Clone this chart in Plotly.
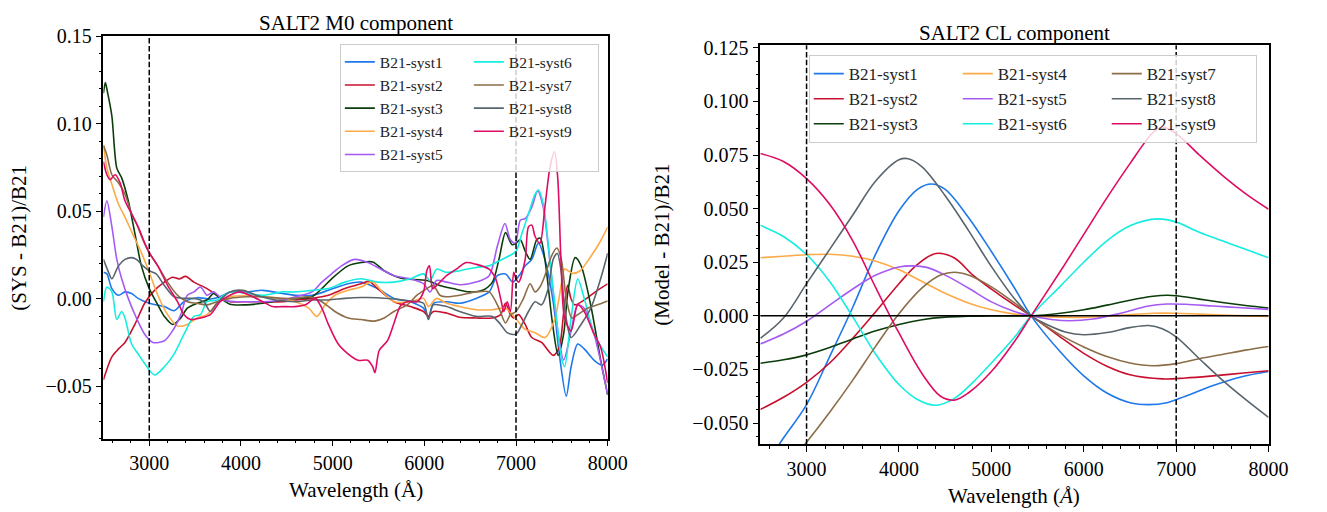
import plotly.graph_objects as go

# ---------------- data ----------------
NAMES = ["B21-syst1", "B21-syst2", "B21-syst3", "B21-syst4", "B21-syst5",
         "B21-syst6", "B21-syst7", "B21-syst8", "B21-syst9"]
COLORS = ["#1f78eb", "#c8102e", "#0b3d0b", "#fdaa48", "#a55af4",
          "#14ede0", "#8b6d48", "#59656d", "#de0c62"]

CUT_LO = 3000
CUT_HI = 7000

# --- SALT2 M0 component: (SYS - B21)/B21 ---
M0_W1 = [2500,2538,2592,2664,2735,2807,2878,3000,3165,3272,3379,3522,3666,3773,3880,4059,4238,4453,4596,4775,4954,5168,5311,5490,5669,5848,5991,6045,6099,6242,6385,6564,6707,6796,6886,6965,7047,7100,7172,7244,7315,7405,7476,7548,7601,7673,7744,7852,7941,8000]
M0_V1 = [.0151,.0142,.0058,.0020,.0039,.0030,.0002,-.0026,-.0045,-.0069,-.0017,.0006,-.0002,.0011,.0039,.0039,.0048,.0030,.0020,.0020,.0048,.0086,.0095,.0058,.0002,-.0017,-.0054,-.0106,-.0026,-.0017,-.0026,.0002,.0039,.0132,.0142,.0095,.0142,.0188,.0225,.0318,.0225,-.0017,-.0333,-.0557,-.0389,-.0259,-.0287,-.0352,-.0380,-.0343]

M0_W2 = [2500,2592,2664,2735,2843,2950,3057,3165,3254,3326,3397,3487,3630,3737,3880,4023,4238,4453,4596,4775,4954,5133,5311,5401,5490,5669,5848,5991,6045,6099,6242,6385,6564,6743,6832,6886,6939,6975,7029,7100,7172,7279,7405,7470,7520,7562,7600,7640,7750,7880,8000]
M0_V2 = [-.0464,-.0333,-.0287,-.0250,-.0147,-.0026,.0048,.0095,.0123,.0113,.0128,.0095,.0058,.0020,-.0017,-.0017,-.0017,-.0017,-.0007,.0002,.0020,.0058,.0086,.0099,.0058,-.0017,-.0045,-.0073,-.0100,-.0073,-.0082,-.0106,-.0110,-.0110,-.0091,-.0026,-.0091,-.0110,-.0091,-.0147,-.0222,-.0250,-.0324,-.0280,-.0080,.0077,.0000,-.0035,-.0005,.0045,.0085]

M0_W3 = [2500,2521,2545,2592,2646,2699,2771,2843,2914,3000,3093,3165,3254,3344,3415,3522,3630,3701,3755,3880,4059,4238,4453,4596,4775,4882,4989,5168,5311,5437,5562,5669,5777,6027,6170,6313,6492,6635,6743,6814,6886,6957,7000,7047,7100,7154,7226,7265,7315,7400,7460,7520,7566,7645,7709,7816,7923,8000]
M0_V3 = [.1175,.1236,.1180,.1045,.0747,.0691,.0560,.0374,.0188,.0058,-.0035,-.0101,-.0147,-.0110,-.0054,-.0026,-.0007,.0030,.0011,-.0032,-.0035,-.0026,-.0007,.0002,.0011,.0058,.0114,.0188,.0207,.0210,.0160,.0132,.0114,.0104,.0076,.0058,.0039,.0048,.0095,.0225,.0378,.0309,.0318,.0337,.0272,.0225,.0337,.0346,.0225,-.0150,-.0324,-.0200,.0039,.0235,.0190,-.0040,-.0350,-.0550]

M0_W4 = [2500,2538,2592,2664,2735,2807,2914,3000,3093,3200,3308,3415,3522,3630,3737,3880,4059,4238,4417,4596,4739,4828,4918,5025,5168,5311,5437,5526,5669,5848,5991,6045,6134,6242,6385,6564,6743,6886,6993,7100,7208,7315,7420,7500,7530,7620,7700,7800,7900,8000]
M0_V4 = [.0877,.0747,.0654,.0542,.0467,.0384,.0263,.0151,.0020,-.0091,-.0156,-.0147,-.0110,-.0091,-.0026,.0011,.0017,.0011,.0002,-.0017,-.0054,-.0101,-.0035,.0020,.0048,.0067,.0099,.0048,-.0017,-.0017,.0002,-.0045,.0002,-.0026,-.0045,-.0063,-.0063,-.0054,-.0110,-.0175,-.0194,-.0222,-.0120,.0100,.0170,.0145,.0160,.0230,.0310,.0410]

M0_W5 = [2500,2538,2592,2646,2699,2771,2860,2950,3039,3165,3254,3344,3415,3487,3558,3630,3701,3809,3952,4095,4238,4453,4596,4775,4882,4989,5097,5240,5383,5526,5669,5848,5991,6063,6134,6242,6385,6564,6707,6796,6879,6939,6993,7047,7100,7172,7236,7297,7351,7405,7460,7520,7601,7673,7744,7852,8000]
M0_V5 = [.0467,.0560,.0412,.0225,.0114,.0002,-.0110,-.0203,-.0250,-.0240,-.0184,-.0091,.0020,.0039,.0067,.0020,.0039,-.0007,-.0017,-.0017,-.0017,-.0007,.0011,.0039,.0095,.0142,.0188,.0225,.0207,.0169,.0132,.0114,.0086,.0039,.0104,.0095,.0080,.0095,.0132,.0300,.0430,.0337,.0318,.0449,.0458,.0523,.0616,.0523,.0300,.0039,-.0200,-.0350,-.0184,-.0035,-.0054,-.0203,-.0550]

M0_W6 = [2500,2538,2592,2646,2699,2735,2807,2878,2950,3057,3165,3272,3379,3487,3558,3630,3737,3880,4059,4238,4453,4596,4775,4954,5133,5311,5490,5669,5848,5991,6063,6134,6242,6385,6564,6707,6814,6922,7000,7065,7136,7208,7244,7297,7369,7440,7494,7530,7601,7673,7744,7852,8000]
M0_V6 = [-.0017,.0067,.0039,-.0119,-.0073,-.0110,-.0259,-.0315,-.0371,-.0436,-.0389,-.0315,-.0203,-.0101,-.0091,-.0017,-.0007,.0039,.0030,.0020,.0039,.0039,.0048,.0058,.0095,.0114,.0095,.0095,.0114,.0142,.0104,.0169,.0151,.0160,.0179,.0188,.0216,.0244,.0272,.0374,.0486,.0598,.0622,.0542,.0225,-.0110,-.0333,-.0389,-.0110,.0114,.0002,-.0203,-.0333]

M0_W7 = [2500,2538,2592,2664,2735,2807,2860,2932,3000,3093,3200,3308,3415,3522,3630,3737,3880,4059,4238,4453,4596,4739,4882,5025,5168,5311,5455,5562,5669,5812,5920,6027,6099,6170,6242,6385,6564,6707,6814,6886,6939,7000,7082,7154,7208,7261,7315,7387,7445,7494,7548,7610,7673,7780,7888,8000]
M0_V7 = [.0877,.0821,.0709,.0663,.0598,.0486,.0430,.0337,.0263,.0188,.0095,.0020,-.0017,-.0026,-.0035,-.0017,.0002,.0011,.0011,.0002,.0002,.0011,-.0017,-.0073,-.0110,-.0119,-.0128,-.0110,-.0073,-.0035,.0020,.0058,.0076,.0020,.0011,.0020,.0039,.0039,-.0054,-.0138,-.0091,-.0073,.0002,.0086,.0039,.0067,.0132,.0244,.0290,.0225,.0002,-.0110,-.0091,-.0054,-.0035,-.0013]

M0_W8 = [2500,2556,2592,2664,2735,2807,2860,2932,3000,3075,3165,3272,3379,3487,3594,3666,3737,3880,4023,4166,4381,4596,4775,4954,5133,5311,5490,5669,5848,5991,6045,6099,6242,6385,6564,6743,6832,6904,7000,7065,7136,7208,7279,7351,7405,7450,7494,7530,7601,7709,7816,7923,8000]
M0_V8 = [.0225,.0151,.0114,.0188,.0225,.0235,.0225,.0188,.0160,.0142,.0076,.0011,.0002,.0002,-.0017,-.0073,-.0026,.0039,.0048,.0020,-.0007,-.0017,-.0007,-.0007,.0002,.0007,.0006,-.0002,-.0013,-.0026,-.0119,-.0035,-.0045,-.0073,-.0101,-.0101,-.0147,-.0194,-.0203,-.0147,-.0073,-.0017,-.0035,.0058,.0225,.0260,.0150,-.0050,-.0222,-.0147,-.0054,.0114,.0260]

M0_W9 = [2500,2538,2574,2628,2682,2735,2807,2878,2950,3000,3093,3200,3308,3379,3451,3558,3666,3773,3880,3988,4095,4238,4345,4453,4596,4703,4810,4882,4954,5061,5168,5276,5383,5437,5462,5508,5598,5669,5741,5812,5920,5991,6027,6056,6091,6134,6242,6349,6456,6564,6707,6778,6832,6868,6904,6939,6975,7000,7029,7100,7136,7172,7208,7261,7315,7369,7420,7455,7490,7530,7601,7673,7744,7852,7923,8000]
M0_V9 = [.0784,.0709,.0681,.0709,.0663,.0560,.0486,.0412,.0318,.0263,.0188,.0076,-.0017,-.0091,-.0119,-.0110,-.0091,-.0017,.0020,.0039,.0020,-.0017,-.0045,-.0045,-.0045,-.0035,.0002,-.0054,-.0147,-.0259,-.0315,-.0352,-.0352,-.0389,-.0423,-.0296,-.0240,-.0140,-.0040,-.0017,-.0017,.0039,.0160,.0188,.0058,.0076,.0132,.0169,.0207,.0197,.0169,.0114,.0002,-.0073,-.0017,-.0073,.0151,.0114,.0095,.0225,.0412,.0421,.0356,.0318,.0523,.0747,.0840,.0691,.0225,-.0110,-.0184,-.0035,-.0073,-.0203,-.0277,-.0482]

# --- SALT2 CL component: (Model - B21)/B21 ---
CL_W1 = [2500,2750,3000,3250,3500,3750,4000,4200,4350,4500,4750,5000,5250,5430,5750,6000,6250,6500,6700,6900,7100,7400,7700,8000]
CL_V1 = [-.073,-.057,-.0414,-.019,.004,.029,.049,.059,.0615,.059,.046,.030,.013,0,-.017,-.028,-.036,-.0405,-.0414,-.0405,-.0375,-.0325,-.0285,-.026]

CL_W2 = [2500,2750,3000,3250,3500,3750,4000,4200,4400,4600,4800,5000,5250,5430,5750,6000,6250,6500,6850,7100,7400,7700,8000]
CL_V2 = [-.0437,-.038,-.031,-.022,-.0105,.002,.015,.024,.0291,.027,.019,.0125,.005,0,-.010,-.0175,-.0235,-.0275,-.0294,-.0290,-.0280,-.0268,-.0256]

CL_W3 = [2500,2750,3000,3250,3500,3750,4000,4250,4500,4750,5000,5430,5750,6000,6250,6500,6750,6900,7000,7250,7500,7750,8000]
CL_V3 = [-.0221,-.0205,-.0182,-.0148,-.0108,-.007,-.004,-.0018,-.0006,-.0002,0,0,.0012,.0028,.005,.0073,.0091,.0096,.0094,.0078,.0062,.0048,.0036]

CL_W4 = [2500,2750,3000,3250,3500,3750,4000,4250,4500,4750,5000,5250,5430,5750,6000,6250,6500,6750,7000,7250,7500,7750,8000]
CL_V4 = [.0271,.0278,.0285,.0287,.0278,.0255,.0215,.016,.0105,.006,.0028,.0008,0,-.0006,-.0007,-.0002,.0006,.0012,.0012,.0008,.0004,.0,-.0003]

CL_W5 = [2500,2750,3000,3250,3500,3750,4000,4150,4300,4500,4750,5000,5250,5430,5650,5850,6100,6400,6700,6900,7100,7400,7700,8000]
CL_V5 = [-.0131,-.0085,-.0025,.005,.0125,.019,.0228,.0233,.0226,.019,.013,.0065,.002,0,-.0017,-.0023,-.0015,.0012,.0046,.0055,.0054,.0046,.0038,.003]

CL_W6 = [2500,2750,3000,3250,3500,3750,4000,4200,4400,4600,4800,5000,5250,5430,5750,6000,6250,6500,6800,7000,7250,7500,7750,8000]
CL_V6 = [.0422,.037,.0286,.016,-.0005,-.018,-.032,-.039,-.0417,-.0385,-.031,-.022,-.010,0,.014,.025,.035,.042,.0452,.0437,.039,.035,.031,.0271]

CL_W7 = [2500,2750,3000,3250,3500,3750,4000,4250,4450,4600,4750,5000,5250,5430,5750,6000,6250,6500,6750,7000,7250,7500,7750,8000]
CL_V7 = [-.085,-.072,-.059,-.045,-.030,-.014,.001,.013,.019,.0203,.019,.0135,.006,0,-.009,-.0145,-.019,-.022,-.0233,-.0223,-.020,-.018,-.016,-.0143]

CL_W8 = [2500,2750,3000,3250,3500,3750,4000,4100,4250,4500,4750,5000,5250,5430,5600,5800,6000,6250,6500,6700,6850,7000,7250,7500,7750,8000]
CL_V8 = [-.0105,-.001,.015,.031,.047,.063,.0728,.0733,.0695,.056,.040,.023,.008,0,-.004,-.0075,-.0088,-.0078,-.0055,-.0045,-.006,-.0098,-.020,-.030,-.039,-.0474]

CL_W9 = [2500,2750,3000,3250,3500,3750,4000,4250,4450,4600,4750,5000,5250,5430,5750,6000,6250,6500,6750,6850,7000,7250,7500,7750,8000]
CL_V9 = [.0757,.072,.064,.052,.035,.013,-.008,-.027,-.0375,-.0393,-.036,-.026,-.012,0,.021,.038,.055,.071,.0855,.088,.085,.075,.0655,.057,.0497]

M0_W = [M0_W1, M0_W2, M0_W3, M0_W4, M0_W5, M0_W6, M0_W7, M0_W8, M0_W9]
M0_V = [M0_V1, M0_V2, M0_V3, M0_V4, M0_V5, M0_V6, M0_V7, M0_V8, M0_V9]
CL_W = [CL_W1, CL_W2, CL_W3, CL_W4, CL_W5, CL_W6, CL_W7, CL_W8, CL_W9]
CL_V = [CL_V1, CL_V2, CL_V3, CL_V4, CL_V5, CL_V6, CL_V7, CL_V8, CL_V9]

# ---------------- figure ----------------
FONT = "Liberation Serif"
W, H = 1327, 512
fig = go.Figure()

M0_GROUPS = ["a", "a", "a", "a", "a", "b", "b", "b", "b"]
CL_GROUPS = ["p", "p", "p", "q", "q", "q", "r", "r", "r"]

for i in range(9):
    fig.add_trace(go.Scatter(
        x=M0_W[i], y=M0_V[i], mode="lines", name=NAMES[i],
        line=dict(color=COLORS[i], width=1.6, shape="spline", smoothing=0.8),
        legendgroup="m0" + M0_GROUPS[i], legend="legend",
        xaxis="x", yaxis="y"))
for i in range(9):
    fig.add_trace(go.Scatter(
        x=CL_W[i], y=CL_V[i], mode="lines", name=NAMES[i],
        line=dict(color=COLORS[i], width=1.6, shape="spline", smoothing=1.0),
        legendgroup="cl" + CL_GROUPS[i], legend="legend2",
        xaxis="x2", yaxis="y2"))

def px_x(p):
    return p / W

def px_y(p):
    return 1 - p / H

axis_common = dict(
    showgrid=False, zeroline=False, showline=True, linecolor="black",
    linewidth=1.5, mirror=True, ticks="outside", ticklen=6, tickwidth=1.2,
    tickcolor="black", tickfont=dict(family=FONT, size=20, color="black"),
)

fig.update_layout(
    width=W, height=H, margin=dict(l=0, r=0, t=0, b=0),
    paper_bgcolor="white", plot_bgcolor="white", showlegend=True,
    xaxis=dict(axis_common, domain=[px_x(105), px_x(617)], anchor="y",
               range=[2500, 8000], dtick=1000, tick0=0,
               minor=dict(ticks="outside", ticklen=3, tickwidth=1, tickcolor="black", dtick=200)),
    yaxis=dict(axis_common, domain=[px_y(437), px_y(26)], anchor="x",
               range=[-0.08, 0.15], dtick=0.05, tick0=0, tickformat=".2f",
               minor=dict(ticks="outside", ticklen=3, tickwidth=1, tickcolor="black", dtick=0.01)),
    xaxis2=dict(axis_common, domain=[px_x(772), px_x(1288)], anchor="y2",
                range=[2500, 8000], dtick=1000, tick0=0,
                minor=dict(ticks="outside", ticklen=3, tickwidth=1, tickcolor="black", dtick=200)),
    yaxis2=dict(axis_common, domain=[px_y(443), px_y(35)], anchor="x2",
                range=[-0.06, 0.1262], dtick=0.025, tick0=0, tickformat=".3f",
                minor=dict(ticks="outside", ticklen=3, tickwidth=1, tickcolor="black", dtick=0.00625)),
    legend=dict(x=px_x(608), xanchor="right", y=px_y(34), yanchor="top",
                orientation="h", traceorder="grouped", tracegroupgap=0,
                bgcolor="rgba(255,255,255,0.8)", bordercolor="#cccccc", borderwidth=1,
                entrywidth=84, font=dict(family=FONT, size=15.5, color="#222")),
    legend2=dict(x=px_x(1276), xanchor="right", y=px_y(45), yanchor="top",
                 orientation="h", traceorder="grouped", tracegroupgap=0,
                 bgcolor="rgba(255,255,255,0.8)", bordercolor="#cccccc", borderwidth=1,
                 entrywidth=104, font=dict(family=FONT, size=17, color="#222")),
)

# reference markers: dashed cut lines and zero line
for xr, yr in (("x", "y domain"), ("x2", "y2 domain")):
    for xv in (CUT_LO, CUT_HI):
        fig.add_shape(type="line", xref=xr, yref=yr, x0=xv, x1=xv, y0=0, y1=1,
                      line=dict(color="black", width=1.5, dash="5.5px,2.4px"), layer="above")
fig.add_shape(type="line", xref="x2 domain", yref="y2", x0=0, x1=1, y0=0, y1=0,
              line=dict(color="black", width=1.5), layer="above")

# titles and axis labels
ann = [
    dict(text="SALT2 M0 component", x=px_x(361), y=px_y(12), size=21, angle=0),
    dict(text="SALT2 CL component", x=px_x(1030), y=px_y(22), size=21, angle=0),
    dict(text="Wavelength (Å)", x=px_x(361), y=px_y(490), size=21, angle=0),
    dict(text="Wavelength (<i>Å</i>)", x=px_x(1030), y=px_y(496), size=21, angle=0),
    dict(text="(SYS - B21)/B21", x=px_x(19), y=px_y(232), size=21, angle=-90),
    dict(text="(Model - B21)/B21", x=px_x(672), y=px_y(239), size=21, angle=-90),
]
for a in ann:
    fig.add_annotation(text=a["text"], x=a["x"], y=a["y"], xref="paper", yref="paper",
                       xanchor="center", yanchor="middle", showarrow=False,
                       textangle=a["angle"], font=dict(family=FONT, size=a["size"], color="black"))

fig.write_html("out.html")
